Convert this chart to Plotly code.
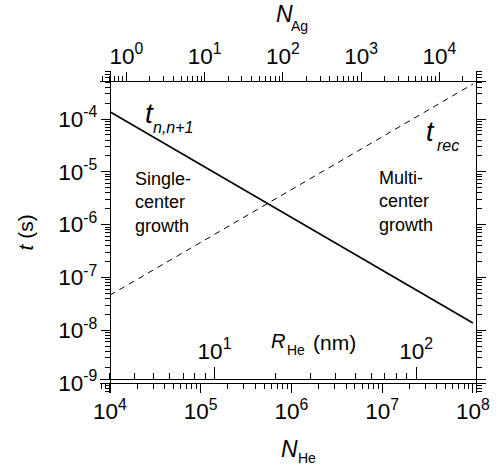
import plotly.graph_objects as go

# ---- data ----
N_He = [1e4, 1e8]
t_nn1 = [1.37e-4, 1.37e-8]      # t_{n,n+1}, solid
t_rec = [4.6e-8, 4.6e-4]        # t_rec, dashed

# visible frame ranges (log10 units)
x_frame = [4, 8.035]            # N_He (bottom)
ag_frame = [-0.211, 4.47]       # N_Ag (top)
r_frame = [0.481, 2.298]        # R_He in nm (inner)
y_frame = [-9, -3.28]           # t (s)

# tick label aliases so that 1 and 10 read as powers of ten
alias = {"1": "10<sup>0</sup>", "10": "10<sup>1</sup>"}
for e in range(4, 10):
    alias["10<sup>\u2212%d</sup>" % e] = "10<sup>-%d</sup>" % e

W, H = 498, 471
FL, FR, FT, FB = 110, 480, 81, 383      # visible frame (pixels)
PADX = PADY = 10                         # room for outside ticks inside the subplot
L, R, T, B = FL - PADX, FR + PADX, FT - PADY, FB + PADY
FONT = "Liberation Sans, Arial, sans-serif"


def grow(rng, frame_px, pad):
    per = (rng[1] - rng[0]) / frame_px
    return [rng[0] - pad * per, rng[1] + pad * per]


def px(x):
    return (x - L) / (R - L)


def py(y):
    return (B - y) / (B - T)


fig = go.Figure()
fig.add_trace(go.Scatter(x=N_He, y=t_nn1, mode="lines",
                         line=dict(color="black", width=1.6), showlegend=False))
fig.add_trace(go.Scatter(x=N_He, y=t_rec, mode="lines",
                         line=dict(color="black", width=1.0, dash="6px,5px"), showlegend=False))
# empty traces so the extra axes exist
fig.add_trace(go.Scatter(x=[], y=[], xaxis="x2", showlegend=False, hoverinfo="skip"))
fig.add_trace(go.Scatter(x=[], y=[], xaxis="x3", showlegend=False, hoverinfo="skip"))
fig.add_trace(go.Scatter(x=[], y=[], yaxis="y2", showlegend=False, hoverinfo="skip"))

base = dict(type="log", dtick=1, exponentformat="power", showline=True,
            linecolor="black", tickcolor="black", ticks="outside", labelalias=alias,
            tickfont=dict(family=FONT, size=18, color="black"))
fw, fh = FR - FL, FB - FT

fig.update_layout(
    width=W, height=H,
    margin=dict(l=L, r=W - R, t=T, b=H - B),
    paper_bgcolor="white", plot_bgcolor="white",
    xaxis=dict(range=grow(x_frame, fw, PADX), anchor="free", position=py(FB),
               ticklen=9, minor=dict(ticks="outside", ticklen=5, tickcolor="black"), **base),
    xaxis2=dict(range=grow(ag_frame, fw, PADX), overlaying="x", side="top", anchor="free",
                position=py(FT), ticklen=9,
                minor=dict(ticks="outside", ticklen=5, tickcolor="black"), **base),
    xaxis3=dict(range=grow(r_frame, fw, PADX), overlaying="x", side="top", anchor="free",
                position=py(FB - 4), ticklen=12,
                minor=dict(ticks="outside", ticklen=6, tickcolor="black"), **base),
    yaxis=dict(range=grow(y_frame, fh, PADY), anchor="free", position=px(FL), ticklen=9,
               minor=dict(ticks="outside", ticklen=5, tickcolor="black"), **base),
    yaxis2=dict(range=grow(y_frame, fh, PADY), overlaying="y", side="right", anchor="free",
                position=px(FR), ticklen=9, showticklabels=False,
                minor=dict(ticks="outside", ticklen=5, tickcolor="black"), **base),
)

ann = []


def txt(x, y, s, size, xanchor="center", yanchor="middle", align="center"):
    ann.append(dict(x=px(x), y=py(y), xref="paper", yref="paper", text=s, showarrow=False,
                    font=dict(family=FONT, size=size, color="black"),
                    xanchor=xanchor, yanchor=yanchor, align=align))


txt(291, 449, "<i>N</i>", 23)
txt(309, 458, "He", 14)
txt(286, 14, "<i>N</i>", 23)
txt(302, 26, "Ag", 14)
ann.append(dict(x=px(11), y=py(232), xref="paper", yref="paper",
                text="<i>t</i> (s)", showarrow=False, textangle=-90,
                font=dict(family=FONT, size=21, color="black")))
txt(280, 341, "<i>R</i>", 20)
txt(298, 350, "He", 14)
txt(337, 342, "(nm)", 21)
txt(150, 113, "<i>t</i>", 28)
txt(174, 127, "<i>n,n+1</i>", 16)
txt(434, 132, "<i>t</i>", 27)
txt(452, 145, "<i>rec</i>", 16)
txt(133, 202, "Single-<br>center<br>growth", 18, xanchor="left", align="left")
txt(380, 201, "Multi-<br>center<br>growth", 18, xanchor="left", align="left")

fig.update_layout(annotations=ann)
fig.write_html("out.html", config={"displayModeBar": False},
               post_script="document.body.style.margin='0';")
